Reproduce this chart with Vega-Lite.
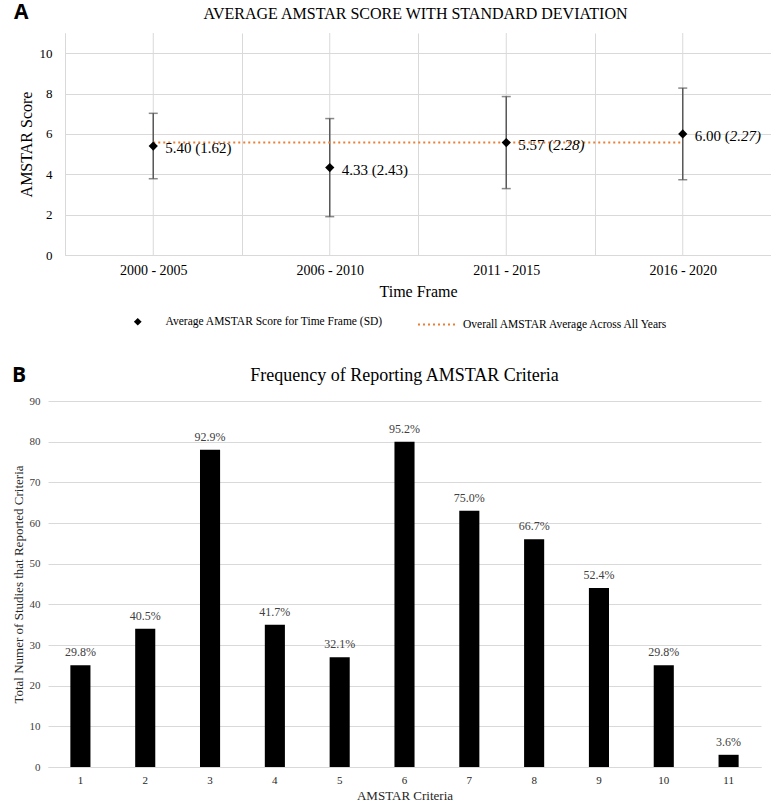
{
  "$schema": "https://vega.github.io/schema/vega-lite/v6.json",
  "padding": {"left": 12, "top": 1, "right": 0, "bottom": 0},
  "background": "white",
  "resolve": {"legend": {"shape": "independent", "strokeDash": "independent"}},
  "config": {
    "font": "Liberation Serif",
    "view": {"stroke": null},
    "axis": {
      "labelFont": "Liberation Serif",
      "titleFont": "Liberation Serif",
      "titleFontWeight": "normal",
      "labelColor": "#000000",
      "titleColor": "#000000",
      "gridColor": "#d9d9d9",
      "domainColor": "#d9d9d9",
      "ticks": false
    },
    "axisY": {"grid": true, "tickCount": 11, "labelOverlap": false},
    "title": {"font": "Liberation Serif", "fontWeight": "normal", "color": "#000000"}
  },
  "spacing": 35,
  "vconcat": [
    {
      "title": {"text": "A", "anchor": "start", "font": "Open Sans", "fontWeight": "bold", "fontSize": 21, "offset": -17, "dx": -4},
      "resolve": {"legend": {"shape": "independent", "strokeDash": "independent"}},
      "vconcat": [
        {
          "width": 723,
          "height": 222,
          "title": {"text": "AVERAGE AMSTAR SCORE WITH STANDARD DEVIATION", "fontSize": 16, "anchor": "middle", "offset": 11, "dx": 6},
          "data": {
            "values": [
              {"period": "2000 - 2005", "mean": 5.40, "sd": 1.62, "lo": 3.78, "hi": 7.02, "lab_a": "5.40 (", "lab_b": "1.62)", "italic": false, "series": "Average AMSTAR Score for Time Frame (SD)"},
              {"period": "2006 - 2010", "mean": 4.33, "sd": 2.43, "lo": 1.90, "hi": 6.76, "lab_a": "4.33 (", "lab_b": "2.43)", "italic": false, "series": "Average AMSTAR Score for Time Frame (SD)"},
              {"period": "2011 - 2015", "mean": 5.57, "sd": 2.28, "lo": 3.29, "hi": 7.85, "lab_a": "5.57 (", "lab_b": "2.28)", "italic": true, "series": "Average AMSTAR Score for Time Frame (SD)"},
              {"period": "2016 - 2020", "mean": 6.00, "sd": 2.27, "lo": 3.73, "hi": 8.27, "lab_a": "6.00 (", "lab_b": "2.27)", "italic": true, "series": "Average AMSTAR Score for Time Frame (SD)"}
            ]
          },
          "layer": [
            {
              "mark": {"type": "rule", "color": "#d9d9d9", "strokeWidth": 1},
              "encoding": {
                "x": {
                  "field": "period", "type": "nominal", "title": "Time Frame",
                  "scale": {"type": "band", "paddingInner": 0, "paddingOuter": 0, "range": [17, 723]},
                  "axis": {"labelAngle": 0, "labelFontSize": 14, "labelPadding": 8, "titleFontSize": 16, "titlePadding": 6, "grid": true, "tickBand": "extent"}
                },
                "y": {
                  "datum": 0, "type": "quantitative", "title": "AMSTAR Score",
                  "scale": {"domain": [0, 11], "nice": false},
                  "axis": {"values": [0, 1, 2, 3, 4, 5, 6, 7, 8, 9, 10, 11], "tickCount": 11, "labelOverlap": false, "offset": -17, "labelFontSize": 13, "labelPadding": 13, "titleFontSize": 16, "titlePadding": 5, "grid": true}
                },
                "y2": {"datum": 11}
              }
            },
            {
              "mark": {"type": "rule", "color": "#595959", "strokeWidth": 1.5},
              "encoding": {
                "x": {"field": "period", "type": "nominal", "title": "Time Frame"},
                "y": {"field": "lo", "type": "quantitative", "title": "AMSTAR Score"},
                "y2": {"field": "hi"}
              }
            },
            {
              "mark": {"type": "tick", "color": "#595959", "thickness": 1.5, "size": 9},
              "encoding": {
                "x": {"field": "period", "type": "nominal", "title": "Time Frame"},
                "y": {"field": "lo", "type": "quantitative", "title": "AMSTAR Score"}
              }
            },
            {
              "mark": {"type": "tick", "color": "#595959", "thickness": 1.5, "size": 9},
              "encoding": {
                "x": {"field": "period", "type": "nominal", "title": "Time Frame"},
                "y": {"field": "hi", "type": "quantitative", "title": "AMSTAR Score"}
              }
            },
            {
              "data": {"values": [{"from": "2000 - 2005", "to": "2016 - 2020", "avg": 5.58, "series": "Overall AMSTAR Average Across All Years"}]},
              "mark": {"type": "rule", "color": "#ED7D31", "strokeWidth": 2},
              "encoding": {
                "x": {"field": "from", "type": "nominal", "title": "Time Frame", "bandPosition": 0.5},
                "x2": {"field": "to", "bandPosition": 0.5},
                "y": {"field": "avg", "type": "quantitative", "title": "AMSTAR Score"},
                "strokeDash": {
                  "field": "series", "type": "nominal",
                  "scale": {"domain": ["Overall AMSTAR Average Across All Years"], "range": [[2, 3]]},
                  "legend": {
                    "orient": "none", "legendX": 369, "legendY": 271, "title": null,
                    "labelFont": "Liberation Serif", "labelFontSize": 11.5, "labelColor": "#000000", "labelLimit": 0,
                    "symbolType": "stroke", "symbolSize": 1521, "symbolStrokeWidth": 2, "symbolStrokeColor": "#ED7D31", "labelOffset": 5
                  }
                }
              }
            },
            {
              "mark": {"type": "point", "shape": "diamond", "filled": true, "color": "#000000", "size": 85, "opacity": 1},
              "encoding": {
                "x": {"field": "period", "type": "nominal", "title": "Time Frame"},
                "y": {"field": "mean", "type": "quantitative", "title": "AMSTAR Score"},
                "shape": {
                  "field": "series", "type": "nominal",
                  "scale": {"domain": ["Average AMSTAR Score for Time Frame (SD)"], "range": ["diamond"]},
                  "legend": {
                    "orient": "none", "legendX": 84, "legendY": 283, "title": null,
                    "labelFont": "Liberation Serif", "labelFontSize": 11.5, "labelColor": "#000000", "labelLimit": 0,
                    "symbolSize": 60, "symbolFillColor": "#000000", "symbolOpacity": 1, "labelOffset": 22
                  }
                }
              }
            },
            {
              "mark": {"type": "text", "align": "left", "baseline": "middle", "dx": 12, "dy": 2, "fontSize": 15, "color": "#000000"},
              "encoding": {
                "x": {"field": "period", "type": "nominal", "title": "Time Frame"},
                "y": {"field": "mean", "type": "quantitative", "title": "AMSTAR Score"},
                "text": {"field": "lab_a"}
              }
            },
            {
              "transform": [{"filter": {"field": "italic", "equal": false}}],
              "mark": {"type": "text", "align": "left", "baseline": "middle", "dx": 47, "dy": 2, "fontSize": 15, "color": "#000000"},
              "encoding": {
                "x": {"field": "period", "type": "nominal", "title": "Time Frame"},
                "y": {"field": "mean", "type": "quantitative", "title": "AMSTAR Score"},
                "text": {"field": "lab_b"}
              }
            },
            {
              "transform": [{"filter": {"field": "italic", "equal": true}}],
              "mark": {"type": "text", "align": "left", "baseline": "middle", "dx": 47, "dy": 2, "fontSize": 15, "fontStyle": "italic", "color": "#000000"},
              "encoding": {
                "x": {"field": "period", "type": "nominal", "title": "Time Frame"},
                "y": {"field": "mean", "type": "quantitative", "title": "AMSTAR Score"},
                "text": {"field": "lab_b"}
              }
            }
          ]
        }
      ]
    },
    {
      "title": {"text": "B", "anchor": "start", "font": "Open Sans", "fontWeight": "bold", "fontSize": 21, "offset": -19, "dx": 0},
      "vconcat": [
        {
          "width": 713,
          "height": 366,
          "title": {"text": "Frequency of Reporting AMSTAR Criteria", "fontSize": 18, "anchor": "middle", "offset": 10},
          "data": {
            "values": [
              {"criterion": 1, "count": 25, "pct": "29.8%"},
              {"criterion": 2, "count": 34, "pct": "40.5%"},
              {"criterion": 3, "count": 78, "pct": "92.9%"},
              {"criterion": 4, "count": 35, "pct": "41.7%"},
              {"criterion": 5, "count": 27, "pct": "32.1%"},
              {"criterion": 6, "count": 80, "pct": "95.2%"},
              {"criterion": 7, "count": 63, "pct": "75.0%"},
              {"criterion": 8, "count": 56, "pct": "66.7%"},
              {"criterion": 9, "count": 44, "pct": "52.4%"},
              {"criterion": 10, "count": 25, "pct": "29.8%"},
              {"criterion": 11, "count": 3, "pct": "3.6%"}
            ]
          },
          "encoding": {
            "x": {
              "field": "criterion", "type": "ordinal", "title": "AMSTAR Criteria",
              "scale": {"paddingInner": 0.69, "paddingOuter": 0.345},
              "axis": {"labelAngle": 0, "labelFontSize": 11, "labelPadding": 7, "titleFontSize": 13, "titlePadding": 4, "labelColor": "#262626", "titleColor": "#262626"}
            },
            "y": {
              "field": "count", "type": "quantitative", "title": "Total Numer of Studies that Reported Criteria",
              "scale": {"domain": [0, 90], "nice": false},
              "axis": {"values": [0, 10, 20, 30, 40, 50, 60, 70, 80, 90], "domain": false, "grid": true, "labelFontSize": 11, "labelPadding": 8, "titleFontSize": 13, "titlePadding": 4, "labelColor": "#404040", "titleColor": "#262626"}
            }
          },
          "layer": [
            {"mark": {"type": "bar", "color": "#000000"}},
            {
              "mark": {"type": "text", "baseline": "bottom", "dy": -6, "fontSize": 12, "color": "#404040"},
              "encoding": {"text": {"field": "pct"}}
            }
          ]
        }
      ]
    }
  ]
}
